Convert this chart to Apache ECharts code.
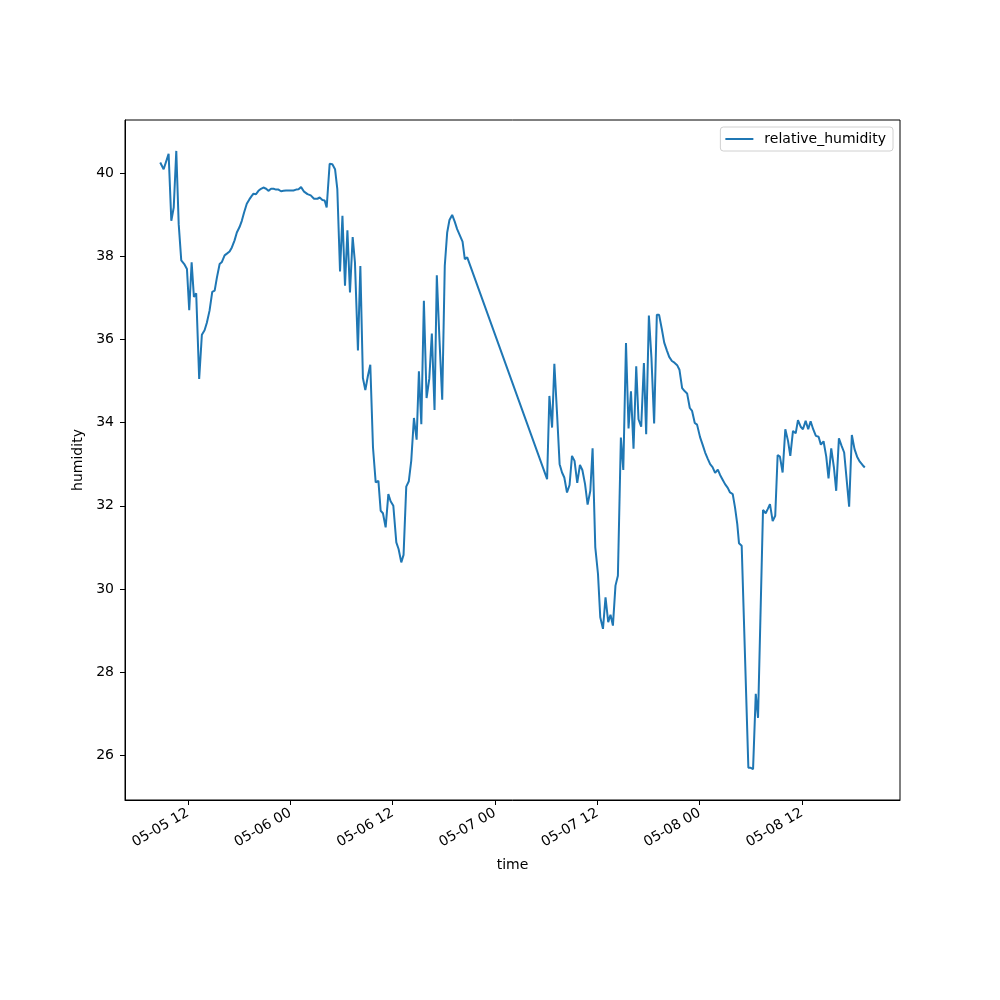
<!DOCTYPE html>
<html>
<head>
<meta charset="utf-8">
<script src="https://cdn.jsdelivr.net/npm/echarts@6.0.0/dist/echarts.min.js"></script>
<style>
  html, body { margin: 0; padding: 0; background: #fff; }
  #chart { width: 1000px; height: 1000px; }
</style>
</head>
<body>
<div id="chart"></div>
<script>
// ====== DATA ======
const times = [
  '2023-05-05 08:45', '2023-05-05 09:09', '2023-05-05 09:44', '2023-05-05 10:03', '2023-05-05 10:20',
  '2023-05-05 10:38', '2023-05-05 10:55', '2023-05-05 11:13', '2023-05-05 11:34', '2023-05-05 11:53',
  '2023-05-05 12:09', '2023-05-05 12:26', '2023-05-05 12:42', '2023-05-05 12:58', '2023-05-05 13:19',
  '2023-05-05 13:38', '2023-05-05 13:57', '2023-05-05 14:13', '2023-05-05 14:32', '2023-05-05 14:51',
  '2023-05-05 15:08', '2023-05-05 15:24', '2023-05-05 15:43', '2023-05-05 15:59', '2023-05-05 16:18',
  '2023-05-05 16:34', '2023-05-05 16:53', '2023-05-05 17:09', '2023-05-05 17:28', '2023-05-05 17:44',
  '2023-05-05 18:03', '2023-05-05 18:19', '2023-05-05 18:35', '2023-05-05 18:54', '2023-05-05 19:13',
  '2023-05-05 19:29', '2023-05-05 19:41', '2023-05-05 19:59', '2023-05-05 20:16', '2023-05-05 20:34',
  '2023-05-05 20:51', '2023-05-05 21:10', '2023-05-05 21:26', '2023-05-05 21:45', '2023-05-05 22:02',
  '2023-05-05 22:20', '2023-05-05 22:37', '2023-05-05 22:55', '2023-05-05 23:12', '2023-05-05 23:30',
  '2023-05-05 23:47',
  '2023-05-06 00:06', '2023-05-06 00:22', '2023-05-06 00:41', '2023-05-06 00:58', '2023-05-06 01:16',
  '2023-05-06 01:37', '2023-05-06 02:01', '2023-05-06 02:24', '2023-05-06 02:47', '2023-05-06 03:11',
  '2023-05-06 03:27', '2023-05-06 03:46', '2023-05-06 04:02', '2023-05-06 04:16', '2023-05-06 04:37',
  '2023-05-06 04:56', '2023-05-06 05:15', '2023-05-06 05:31', '2023-05-06 05:50', '2023-05-06 06:07',
  '2023-05-06 06:25', '2023-05-06 06:42', '2023-05-06 07:00', '2023-05-06 07:19', '2023-05-06 07:35',
  '2023-05-06 07:56', '2023-05-06 08:13', '2023-05-06 08:31', '2023-05-06 08:48', '2023-05-06 09:06',
  '2023-05-06 09:23', '2023-05-06 09:42', '2023-05-06 10:01', '2023-05-06 10:20', '2023-05-06 10:36',
  '2023-05-06 10:52', '2023-05-06 11:11', '2023-05-06 11:30', '2023-05-06 11:46', '2023-05-06 12:05',
  '2023-05-06 12:26', '2023-05-06 12:42', '2023-05-06 13:01', '2023-05-06 13:17', '2023-05-06 13:36',
  '2023-05-06 13:54', '2023-05-06 14:11', '2023-05-06 14:30', '2023-05-06 14:49', '2023-05-06 15:05',
  '2023-05-06 15:22', '2023-05-06 15:40', '2023-05-06 15:59', '2023-05-06 16:18', '2023-05-06 16:36',
  '2023-05-06 16:55', '2023-05-06 17:11', '2023-05-06 17:30', '2023-05-06 17:49', '2023-05-06 18:07',
  '2023-05-06 18:24', '2023-05-06 18:40', '2023-05-06 18:59', '2023-05-06 19:17', '2023-05-06 19:34',
  '2023-05-06 19:53', '2023-05-06 20:12', '2023-05-06 20:28', '2023-05-06 20:45',
  '2023-05-07 06:07', '2023-05-07 06:23', '2023-05-07 06:42', '2023-05-07 06:58', '2023-05-07 07:17',
  '2023-05-07 07:35', '2023-05-07 07:52', '2023-05-07 08:08', '2023-05-07 08:27', '2023-05-07 08:45',
  '2023-05-07 09:02', '2023-05-07 09:20', '2023-05-07 09:39', '2023-05-07 09:58', '2023-05-07 10:15',
  '2023-05-07 10:34', '2023-05-07 10:52', '2023-05-07 11:11', '2023-05-07 11:27', '2023-05-07 11:46',
  '2023-05-07 12:05', '2023-05-07 12:21', '2023-05-07 12:40', '2023-05-07 12:58', '2023-05-07 13:17',
  '2023-05-07 13:33', '2023-05-07 13:50', '2023-05-07 14:08', '2023-05-07 14:25', '2023-05-07 14:46',
  '2023-05-07 15:03', '2023-05-07 15:22', '2023-05-07 15:40', '2023-05-07 15:57', '2023-05-07 16:15',
  '2023-05-07 16:34', '2023-05-07 16:50', '2023-05-07 17:09', '2023-05-07 17:28', '2023-05-07 17:44',
  '2023-05-07 18:03', '2023-05-07 18:21', '2023-05-07 18:40', '2023-05-07 18:59', '2023-05-07 19:15',
  '2023-05-07 19:34', '2023-05-07 19:51', '2023-05-07 20:10', '2023-05-07 20:26', '2023-05-07 20:45',
  '2023-05-07 21:03', '2023-05-07 21:22', '2023-05-07 21:38', '2023-05-07 21:57', '2023-05-07 22:16',
  '2023-05-07 22:32', '2023-05-07 22:51', '2023-05-07 23:07', '2023-05-07 23:26', '2023-05-07 23:42',
  '2023-05-08 00:03', '2023-05-08 00:21', '2023-05-08 00:39', '2023-05-08 00:56', '2023-05-08 01:14',
  '2023-05-08 01:31', '2023-05-08 01:49', '2023-05-08 02:08', '2023-05-08 02:24', '2023-05-08 02:43',
  '2023-05-08 02:59', '2023-05-08 03:18', '2023-05-08 03:34', '2023-05-08 03:53', '2023-05-08 04:09',
  '2023-05-08 04:25', '2023-05-08 04:37', '2023-05-08 04:56', '2023-05-08 05:08', '2023-05-08 05:43',
  '2023-05-08 06:00', '2023-05-08 06:16', '2023-05-08 06:35', '2023-05-08 06:51', '2023-05-08 07:26',
  '2023-05-08 07:45', '2023-05-08 07:59', '2023-05-08 08:15', '2023-05-08 08:34', '2023-05-08 08:52',
  '2023-05-08 09:09', '2023-05-08 09:25', '2023-05-08 09:44', '2023-05-08 10:03', '2023-05-08 10:22',
  '2023-05-08 10:38', '2023-05-08 10:57', '2023-05-08 11:16', '2023-05-08 11:32', '2023-05-08 11:51',
  '2023-05-08 12:07', '2023-05-08 12:26', '2023-05-08 12:44', '2023-05-08 13:01', '2023-05-08 13:19',
  '2023-05-08 13:38', '2023-05-08 13:57', '2023-05-08 14:13', '2023-05-08 14:32', '2023-05-08 14:51',
  '2023-05-08 15:07', '2023-05-08 15:26', '2023-05-08 15:45', '2023-05-08 16:01', '2023-05-08 16:20',
  '2023-05-08 16:39', '2023-05-08 16:57', '2023-05-08 17:32', '2023-05-08 17:51', '2023-05-08 18:10',
  '2023-05-08 18:28', '2023-05-08 18:47', '2023-05-08 19:06', '2023-05-08 19:22'
];

const humidity = [
  40.25, 40.09, 40.46, 38.85, 39.17,
  40.53, 38.77, 37.90, 37.81, 37.69,
  36.70, 37.85, 37.02, 37.11, 35.05,
  36.11, 36.22, 36.40, 36.69, 37.14,
  37.17, 37.49, 37.81, 37.86, 38.02,
  38.06, 38.11, 38.21, 38.38, 38.57,
  38.70, 38.85, 39.05, 39.26, 39.37,
  39.45, 39.50, 39.49, 39.57, 39.62,
  39.65, 39.62, 39.57, 39.62, 39.62,
  39.60, 39.60, 39.56, 39.57, 39.58,
  39.58,
  39.58, 39.58, 39.60, 39.61, 39.66,
  39.55, 39.49, 39.46, 39.38, 39.38,
  39.41, 39.35, 39.34, 39.17, 40.22,
  40.21, 40.09, 39.61, 37.63, 38.97,
  37.29, 38.62, 37.13, 38.46, 37.85,
  35.73, 37.76, 35.07, 34.78, 35.12,
  35.39, 33.40, 32.56, 32.60, 31.88,
  31.82, 31.48, 32.28, 32.11, 32.00,
  31.12, 30.96, 30.64, 30.82, 32.46,
  32.59, 33.08, 34.11, 33.59, 35.23,
  33.96, 36.93, 34.59, 35.05, 36.14,
  34.30, 37.54, 35.97, 34.55, 37.77,
  38.57, 38.87, 38.99, 38.83, 38.65,
  38.50, 38.35, 37.93, 37.97,
  32.64, 34.64, 33.88, 35.41, 34.21,
  33.00, 32.80, 32.68, 32.32, 32.50,
  33.20, 33.08, 32.55, 32.98, 32.86,
  32.52, 32.03, 32.36, 33.38, 31.00,
  30.36, 29.32, 29.04, 29.80, 29.20,
  29.38, 29.12, 30.08, 30.32, 33.64,
  32.86, 35.91, 33.86, 34.75, 33.37,
  35.35, 34.08, 33.90, 35.43, 33.72,
  36.57, 35.56, 33.98, 36.59, 36.59,
  36.25, 35.92, 35.73, 35.58, 35.48,
  35.44, 35.38, 35.27, 34.83, 34.75,
  34.70, 34.35, 34.28, 33.99, 33.95,
  33.65, 33.47, 33.28, 33.14, 33.00,
  32.93, 32.79, 32.87, 32.74, 32.62,
  32.52, 32.43, 32.32, 32.28, 31.96,
  31.56, 31.10, 31.04, 31.02, 25.70,
  25.70, 25.67, 27.48, 26.90, 31.90,
  31.82, 31.92, 32.04, 31.63, 31.76,
  33.22, 33.18, 32.80, 33.84, 33.56,
  33.20, 33.80, 33.74, 34.06, 33.90,
  33.84, 34.04, 33.84, 34.03, 33.84,
  33.68, 33.66, 33.47, 33.55, 33.18,
  32.66, 33.38, 32.92, 32.36, 33.62,
  33.44, 33.28, 31.98, 33.70, 33.36,
  33.18, 33.06, 32.98, 32.92
];

const xTickTimes = [
  '2023-05-05 12:00', '2023-05-06 00:00', '2023-05-06 12:00', '2023-05-07 00:00',
  '2023-05-07 12:00', '2023-05-08 00:00', '2023-05-08 12:00'
];
const yTicks = [26, 28, 30, 32, 34, 36, 38, 40];

// ====== HELPERS ======
function toMs(s) {
  return new Date(s.replace(' ', 'T') + ':00').getTime();
}
function pad2(n) {
  return String(n).padStart(2, '0');
}
function fmtTick(v) {
  const d = new Date(v);
  return pad2(d.getMonth() + 1) + '-' + pad2(d.getDate()) + ' ' + pad2(d.getHours());
}

const timeMs = times.map(toMs);
const xTickMs = xTickTimes.map(toMs);

// margin 5% như matplotlib
const tLo = Math.min(...timeMs), tHi = Math.max(...timeMs);
const vLo = Math.min(...humidity), vHi = Math.max(...humidity);
const tPad = (tHi - tLo) * 0.05, vPad = (vHi - vLo) * 0.05;

const font = 'DejaVu Sans';
const textStyle = { color: '#000', fontSize: 14, fontFamily: font };

const chart = echarts.init(document.getElementById('chart'));

const option = {
  animation: false,
  backgroundColor: '#fff',
  textStyle: { fontFamily: font },
  grid: {
    left: 125, top: 120, width: 775, height: 680,
    show: true, borderColor: '#000', borderWidth: 1, backgroundColor: 'transparent'
  },
  legend: {
    data: ['relative_humidity'],
    right: 107, top: 127,
    orient: 'vertical',
    icon: 'rect',
    itemWidth: 28, itemHeight: 2,
    itemGap: 0,
    textStyle: { color: '#000', fontSize: 14, fontFamily: font, padding: [0, 0, 0, 6] },
    backgroundColor: '#fff',
    borderColor: '#d0d0d0', borderWidth: 1, borderRadius: 3,
    padding: [5, 7, 5, 5]
  },
  xAxis: {
    // trục value với mốc thời gian dạng ms
    type: 'value',
    min: tLo - tPad,
    max: tHi + tPad,
    name: 'time',
    nameLocation: 'middle',
    nameGap: 58,
    nameTextStyle: textStyle,
    axisLine: { show: true, onZero: false, lineStyle: { color: '#000', width: 1 } },
    axisTick: { show: true, length: 5, customValues: xTickMs, lineStyle: { color: '#000' } },
    axisLabel: {
      customValues: xTickMs,
      rotate: 30,
      margin: 12,
      color: '#000', fontSize: 14, fontFamily: font,
      formatter: v => fmtTick(v)
    },
    splitLine: { show: false }
  },
  yAxis: {
    type: 'value',
    min: vLo - vPad,
    max: vHi + vPad,
    name: 'humidity',
    nameLocation: 'middle',
    nameGap: 33,
    nameTextStyle: textStyle,
    axisLine: { show: true, lineStyle: { color: '#000', width: 1 } },
    axisTick: { show: true, length: 5, customValues: yTicks, lineStyle: { color: '#000' } },
    axisLabel: {
      customValues: yTicks,
      margin: 11,
      color: '#000', fontSize: 14, fontFamily: font
    },
    splitLine: { show: false }
  },
  series: [{
    name: 'relative_humidity',
    type: 'line',
    data: timeMs.map((t, i) => [t, humidity[i]]),
    showSymbol: false,
    symbol: 'none',
    color: '#1f77b4',
    lineStyle: { color: '#1f77b4', width: 2 }
  }]
};

chart.setOption(option);
window.addEventListener('resize', () => chart.resize());
</script>
</body>
</html>
